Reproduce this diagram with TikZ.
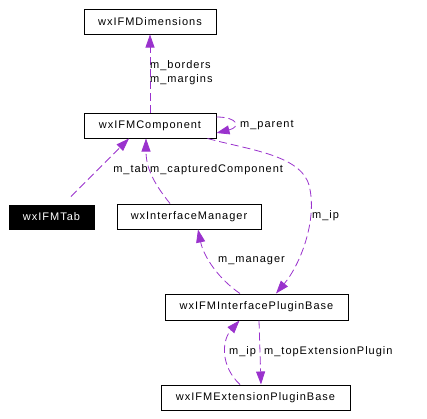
\documentclass[tikz,border=0pt]{standalone}
\usepackage{fontspec}
\setmainfont{Liberation Sans}[LetterSpace=9]
\usetikzlibrary{arrows.meta}
\definecolor{edgec}{HTML}{9A32CD}
\begin{document}
\begin{tikzpicture}[x=1pt,y=-1pt,
  cls/.style={draw=black,line width=1pt,inner sep=0pt,font=\fontsize{11}{13}\selectfont,anchor=center},
  use/.style={draw=edgec,line width=0.8pt,dash pattern=on 8pt off 4pt,-{Triangle[length=13pt,width=9pt]}},
  lab/.style={font=\fontsize{11}{14}\selectfont,inner sep=0pt,anchor=west,align=left}]
\useasboundingbox (0,0) rectangle (427,418);
\node[cls,minimum width=132pt,minimum height=25pt] (dim) at (150,21.5) {wxIFMDimensions};
\node[cls,minimum width=132pt,minimum height=25pt] (comp) at (150,125.5) {wxIFMComponent};
\node[cls,fill=black,text=white,minimum width=85pt,minimum height=24pt] (tab) at (51.5,217) {wxIFMTab};
\node[cls,minimum width=144pt,minimum height=25pt] (mgr) at (189,216.5) {wxInterfaceManager};
\node[cls,minimum width=183pt,minimum height=26pt] (ipb) at (256.5,307) {wxIFMInterfacePluginBase};
\node[cls,minimum width=189pt,minimum height=25pt] (epb) at (255.5,397.5) {wxIFMExtensionPluginBase};
% edges
\draw[use] (comp) -- (dim);
\draw[use] ([shift={(0,-8.5)}]comp.east) .. controls (238,117) and (241,127) .. ([shift={(0,7.5)}]comp.east);
\draw[use] ([shift={(19.5,-8)}]tab.north) -- ([shift={(-21,0)}]comp.south);
\draw[use] ([shift={(-19,0)}]mgr.north) .. controls (156,186) and (146,170) .. ([shift={(-4,0)}]comp.south);
\draw[use] ([shift={(-9,0)}]comp.south east) .. controls (250,150) and (300,155) .. (309,185) .. controls (318,220) and (300,265) .. ([shift={(19.5,0)}]ipb.north);
\draw[use] ([shift={(-16.5,0)}]ipb.north) .. controls (220,280) and (204,258) .. ([shift={(9,0)}]mgr.south);
\draw[use] ([shift={(-15.5,0)}]epb.north) .. controls (220,366) and (222,340) .. ([shift={(-17,0)}]ipb.south);
\draw[use] ([shift={(2.5,0)}]ipb.south) -- ([shift={(5.5,0)}]epb.north);
% labels
\node[lab] (l1) at (150,73) {m\_borders\\m\_margins};
\node[lab] (l2) at (240,125) {m\_parent};
\node[lab,anchor=east] (l3) at (148,170) {m\_tab};
\node[lab] (l4) at (150,170) {m\_capturedComponent};
\node[lab] (l5) at (312,216) {m\_ip};
\node[lab] (l6) at (218,261) {m\_manager};
\node[lab] (l7) at (229,352) {m\_ip};
\node[lab] (l8) at (264,352) {m\_topExtensionPlugin};
\end{tikzpicture}
\end{document}
